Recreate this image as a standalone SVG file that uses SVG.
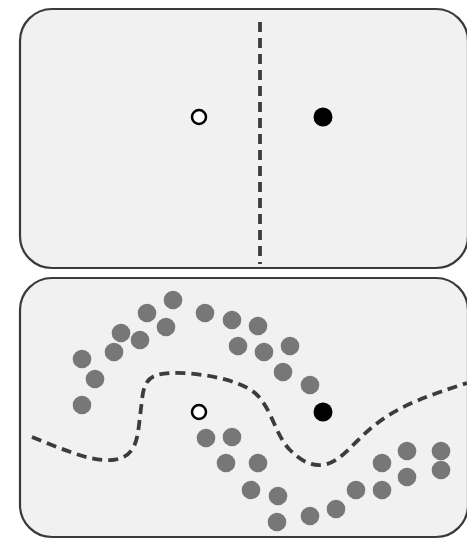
<svg xmlns="http://www.w3.org/2000/svg" width="467" height="540" viewBox="0 0 467 540">
<style>
.panel{fill:#f1f1f1;stroke:#3a3a3a;stroke-width:2.2}
.dash{fill:none;stroke:#3c3c3c;stroke-width:3.8;stroke-dasharray:10 6}
.dot{fill:#777}
.open{fill:#fff;stroke:#000;stroke-width:2.5}
.fill{fill:#000}
</style>
<rect width="467" height="540" fill="#fff"/>
<g id="panel-top">
<rect class="panel" x="20" y="9" width="448" height="259" rx="32"/>
<path class="dash" d="M260,22 L260,264"/>
<circle class="open" cx="199" cy="117" r="7"/>
<circle class="fill" cx="323" cy="117" r="9.5"/>
</g>
<g id="panel-bottom">
<rect class="panel" x="20" y="278" width="448" height="259" rx="32"/>
<path class="dash" d="M32,437 C60,448 90,462 112,460 C135,458 137,440 139,425 L142,400 C144,380 150,374 170,373 C200,372 240,380 255,393 C272,408 275,435 290,450 C300,460 310,466 322,465 C340,464 355,440 375,425 C400,405 430,395 467,383"/>
<g id="dots">
<circle class="dot" cx="173" cy="300" r="9.3"/>
<circle class="dot" cx="147" cy="313" r="9.3"/>
<circle class="dot" cx="166" cy="327" r="9.3"/>
<circle class="dot" cx="121" cy="333" r="9.3"/>
<circle class="dot" cx="140" cy="340" r="9.3"/>
<circle class="dot" cx="114" cy="352" r="9.3"/>
<circle class="dot" cx="82" cy="359" r="9.3"/>
<circle class="dot" cx="95" cy="379" r="9.3"/>
<circle class="dot" cx="82" cy="405" r="9.3"/>
<circle class="dot" cx="205" cy="313" r="9.3"/>
<circle class="dot" cx="232" cy="320" r="9.3"/>
<circle class="dot" cx="258" cy="326" r="9.3"/>
<circle class="dot" cx="238" cy="346" r="9.3"/>
<circle class="dot" cx="264" cy="352" r="9.3"/>
<circle class="dot" cx="290" cy="346" r="9.3"/>
<circle class="dot" cx="283" cy="372" r="9.3"/>
<circle class="dot" cx="310" cy="385" r="9.3"/>
<circle class="dot" cx="206" cy="438" r="9.3"/>
<circle class="dot" cx="232" cy="437" r="9.3"/>
<circle class="dot" cx="226" cy="463" r="9.3"/>
<circle class="dot" cx="258" cy="463" r="9.3"/>
<circle class="dot" cx="251" cy="490" r="9.3"/>
<circle class="dot" cx="278" cy="496" r="9.3"/>
<circle class="dot" cx="277" cy="522" r="9.3"/>
<circle class="dot" cx="310" cy="516" r="9.3"/>
<circle class="dot" cx="336" cy="509" r="9.3"/>
<circle class="dot" cx="356" cy="490" r="9.3"/>
<circle class="dot" cx="382" cy="490" r="9.3"/>
<circle class="dot" cx="382" cy="463" r="9.3"/>
<circle class="dot" cx="407" cy="451" r="9.3"/>
<circle class="dot" cx="407" cy="477" r="9.3"/>
<circle class="dot" cx="441" cy="451" r="9.3"/>
<circle class="dot" cx="441" cy="470" r="9.3"/>
</g>
<circle class="open" cx="199" cy="412" r="7"/>
<circle class="fill" cx="323" cy="412" r="9.5"/>
</g>
</svg>
